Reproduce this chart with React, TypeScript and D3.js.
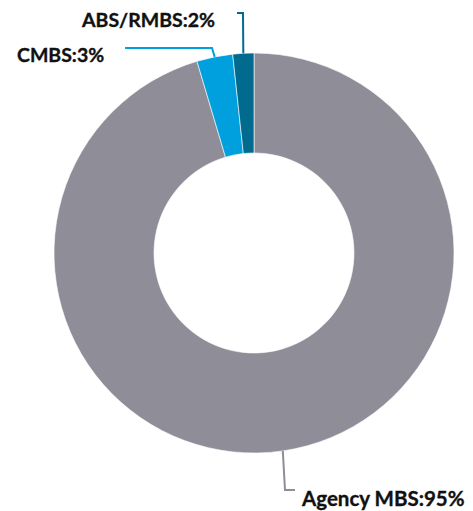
import React from "react";
import * as d3 from "d3";

const categories = ["Agency MBS", "CMBS", "ABS/RMBS"];
const values = [95.4, 2.9, 1.7];
const colors = ["#8e8d98", "#00a0df", "#006b8f"];

const W = 473;
const H = 511;
const cx = 254;
const cy = 253;
const outerR = 200;
const innerR = 100;

const leaders = [
  { elbowX: 285, elbowY: 490, endX: 295, textX: 302, textY: 506, size: 20.5 },
  { elbowX: 212, elbowY: 48, endX: 125, textX: 17, textY: 62, size: 19.5 },
  { elbowX: 243, elbowY: 13, endX: 237, textX: 82, textY: 27, size: 19.5 },
];

export default function App() {
  const pie = d3
    .pie<number>()
    .sort(null)
    .value((d) => d)
    .startAngle(0)
    .endAngle(2 * Math.PI);
  const arcs = pie(values);
  const arc = d3.arc<d3.PieArcDatum<number>>().innerRadius(innerR).outerRadius(outerR);

  return (
    <svg width={W} height={H} style={{ position: "absolute", left: 0, top: 0 }}>
      <g transform={`translate(${cx},${cy})`}>
        {arcs.map((a, i) => (
          <path key={i} d={arc(a) || ""} fill={colors[i]} stroke="#ffffff" strokeWidth={0.6} />
        ))}
      </g>
      {arcs.map((a, i) => {
        const mid = (a.startAngle + a.endAngle) / 2;
        const px = cx + outerR * Math.sin(mid);
        const py = cy - outerR * Math.cos(mid);
        const L = leaders[i];
        const pts = `${px},${py} ${L.elbowX},${L.elbowY} ${L.endX},${L.elbowY}`;
        return (
          <polyline key={i} points={pts} fill="none" stroke={colors[i]} strokeWidth={2} />
        );
      })}
      {arcs.map((a, i) => {
        const L = leaders[i];
        return (
          <text
            key={i}
            x={L.textX}
            y={L.textY}
            textAnchor="start"
            fontFamily="Lato, 'Open Sans', sans-serif"
            fontWeight={700}
            fontSize={L.size}
            fill="#111111"
            stroke="#111111"
            strokeWidth={0.35}
          >
            {`${categories[i]}:${Math.round(values[i])}%`}
          </text>
        );
      })}
    </svg>
  );
}
